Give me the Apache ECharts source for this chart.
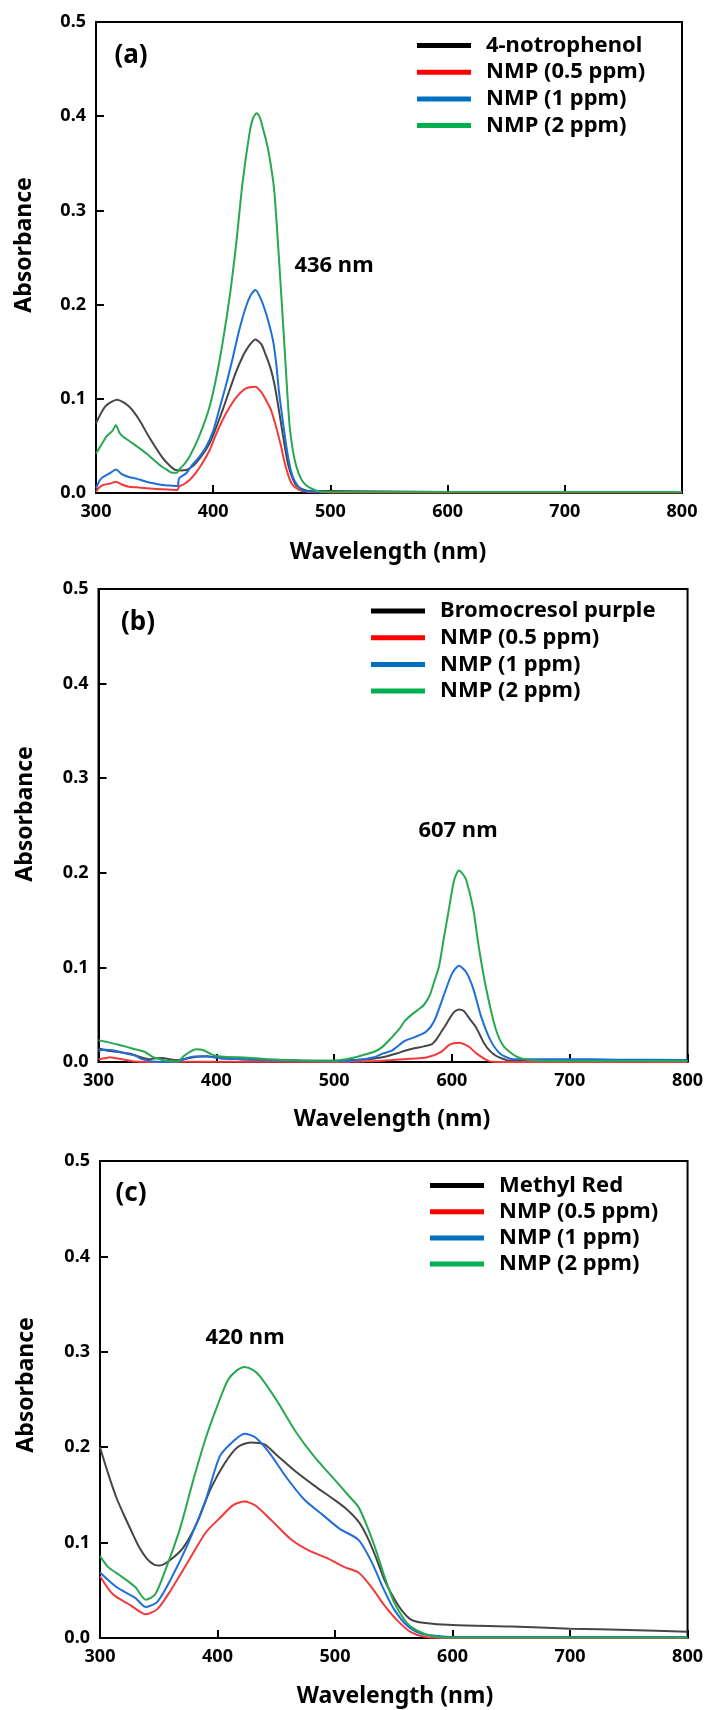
<!DOCTYPE html>
<html>
<head>
<meta charset="utf-8">
<script src="https://cdn.jsdelivr.net/npm/echarts@6/dist/echarts.min.js"></script>
<style>
html,body{margin:0;padding:0;background:#fff;}
#chart{width:706px;height:1710px;}
</style>
</head>
<body>
<div id="chart"></div>
<script>
// ---------- data: [wavelength (nm), absorbance] ----------
const seriesNamesA = ['4-notrophenol', 'NMP (0.5 ppm)', 'NMP (1 ppm)', 'NMP (2 ppm)'];
const seriesNamesB = ['Bromocresol purple', 'NMP (0.5 ppm)', 'NMP (1 ppm)', 'NMP (2 ppm)'];
const seriesNamesC = ['Methyl Red', 'NMP (0.5 ppm)', 'NMP (1 ppm)', 'NMP (2 ppm)'];
const panelLabels = ['(a)', '(b)', '(c)'];
const peakLabels = ['436 nm', '607 nm', '420 nm'];
const yTickValues = [0, 0.1, 0.2, 0.3, 0.4, 0.5];
const xTickValues = [300, 400, 500, 600, 700, 800];

// Panel (a)
const a_dye = [[300,0.074],[308,0.092],[318,0.099],[328,0.092],[337,0.0775],[345,0.060],[357,0.037],[363,0.029],[368,0.0244],[372,0.024],[377,0.0244],[385,0.0315],[397,0.053],[408,0.088],[419,0.127],[426,0.147],[431,0.157],[436,0.163],[441,0.158],[445,0.146],[449,0.132],[452,0.117],[455,0.096],[458,0.073],[461,0.050],[464,0.030],[467,0.018],[471,0.008],[476,0.004],[482,0.002],[500,0.002],[600,0.001],[700,0.001],[800,0.001]];
const a_05 = [[300,0.0014],[303,0.006],[306,0.0085],[312,0.010],[317,0.012],[322,0.009],[328,0.0067],[335,0.006],[343,0.005],[355,0.004],[369.5,0.0032],[371,0.0075],[374,0.0085],[380,0.014],[385,0.021],[391,0.032],[397,0.0456],[402,0.061],[408,0.0775],[414,0.091],[420,0.102],[428,0.111],[436,0.1128],[441,0.107],[445,0.0987],[449,0.089],[452,0.0775],[455,0.064],[458,0.049],[461,0.032],[464,0.019],[467,0.010],[471,0.005],[476,0.002],[482,0.001],[500,0.0005],[800,0.0005]];
const a_1 = [[300,0.005],[303,0.013],[306,0.017],[312,0.021],[317,0.025],[322,0.020],[328,0.017],[335,0.015],[343,0.012],[350,0.010],[357,0.0085],[365,0.0078],[369.5,0.0075],[371,0.0156],[377,0.021],[382,0.0297],[388,0.038],[394,0.049],[400,0.066],[405,0.088],[411,0.115],[417,0.145],[422,0.172],[428,0.198],[432,0.210],[436,0.2155],[440,0.208],[445,0.191],[451,0.162],[454,0.135],[456,0.109],[459,0.080],[462,0.053],[465,0.031],[468,0.017],[472,0.008],[476,0.003],[482,0.0015],[500,0.001],[800,0.001]];
const a_2 = [[300,0.042],[305,0.052],[309,0.060],[314,0.066],[317,0.072],[320,0.064],[323,0.060],[331,0.053],[343,0.042],[354,0.030],[360,0.025],[365,0.0215],[369,0.0215],[371,0.025],[375,0.030],[380,0.039],[388,0.060],[397,0.092],[405,0.138],[414,0.208],[420,0.269],[425,0.329],[431,0.382],[434,0.398],[437,0.403],[440,0.398],[442,0.389],[445,0.375],[448,0.357],[452,0.322],[456,0.251],[461,0.152],[465,0.074],[468,0.045],[471,0.028],[475,0.015],[479,0.0085],[485,0.004],[491,0.0015],[500,0.001],[600,0.001],[700,0.001],[800,0.001]];

// Panel (b)
const b_dye = [[300,0.0146],[308,0.012],[316,0.0108],[327,0.0088],[336,0.005],[343,0.003],[349,0.004],[354,0.0042],[360,0.003],[366,0.0019],[372,0.003],[377,0.0042],[385,0.0058],[392,0.006],[400,0.005],[420,0.003],[446,0.0022],[470,0.0015],[499,0.0012],[515,0.002],[530,0.003],[541,0.005],[553,0.009],[560,0.0119],[568,0.0145],[576,0.0165],[583,0.019],[587,0.0242],[591,0.032],[595,0.0396],[598,0.046],[602,0.053],[606,0.0556],[610,0.054],[612,0.051],[616,0.044],[620,0.0376],[624,0.028],[627,0.0204],[632,0.012],[637,0.0069],[642,0.004],[648,0.0015],[660,0.001],[700,0.001],[800,0.001]];
const b_05 = [[300,0.003],[305,0.004],[310,0.005],[315,0.004],[320,0.003],[331,0.0005],[350,0],[400,0.0003],[500,0],[530,0.0008],[541,0.0012],[560,0.003],[579,0.005],[591,0.0108],[598,0.0184],[606,0.0204],[614,0.0165],[621,0.0088],[631,0.0012],[641,0],[700,0],[800,0]];
const b_1 = [[300,0.0119],[305,0.013],[310,0.0127],[317,0.011],[324,0.0088],[331,0.0069],[337,0.003],[346,0.0005],[362,0],[369.5,0.0012],[375,0.004],[381,0.0058],[392,0.0058],[404,0.0038],[425,0.003],[446,0.0019],[470,0.0012],[499,0.0008],[518,0.0019],[534,0.005],[541,0.0088],[549,0.012],[553,0.0157],[560,0.0223],[568,0.0261],[578,0.0319],[585,0.0434],[593,0.0702],[600,0.0932],[606,0.1017],[612,0.0951],[618,0.0779],[625,0.0472],[633,0.0223],[641,0.0088],[652,0.003],[670,0.003],[700,0.003],[740,0.0025],[800,0.002]];
const b_2 = [[300,0.023],[308,0.021],[316,0.0184],[324,0.016],[331,0.0134],[339,0.0108],[346.5,0.005],[352,0.003],[358,0.0012],[367,0.0005],[373,0.0069],[378,0.011],[383,0.0134],[388.6,0.0127],[396,0.0081],[404,0.0058],[427,0.0046],[445,0.003],[465,0.0019],[499,0.0012],[510,0.003],[518,0.005],[526,0.008],[534,0.0108],[541,0.016],[549,0.0261],[556,0.036],[560,0.0434],[566,0.0502],[571,0.055],[576,0.060],[581,0.070],[585,0.085],[589,0.1009],[593,0.13],[597,0.1584],[602,0.1929],[606,0.2025],[609,0.199],[612,0.1929],[618,0.1622],[623,0.120],[629,0.0779],[637,0.0357],[644,0.0165],[656,0.005],[675,0.0012],[700,0.001],[800,0.001]];

// Panel (c)
const c_dye = [[300,0.200],[307,0.172],[314,0.147],[320,0.130],[326,0.114],[333,0.096],[340,0.083],[346,0.077],[351,0.076],[360,0.082],[371,0.095],[383,0.122],[394,0.156],[406,0.183],[417,0.200],[428,0.205],[440,0.203],[451,0.191],[466,0.175],[482,0.160],[497,0.147],[508,0.137],[520,0.122],[527,0.107],[535,0.084],[542,0.061],[550,0.042],[558,0.027],[565,0.019],[575,0.016],[600,0.0135],[650,0.012],[700,0.0098],[750,0.0085],[800,0.0065]];
const c_05 = [[300,0.0648],[311,0.0458],[326,0.0343],[339,0.0248],[349,0.0305],[360,0.0496],[375,0.0801],[390,0.1106],[402,0.1258],[413,0.1391],[423,0.143],[432,0.1391],[447,0.122],[463,0.1029],[478,0.0915],[493,0.0839],[508,0.0743],[520,0.0686],[531,0.0534],[542,0.0343],[554,0.0172],[565,0.0058],[577,0.001],[600,0],[800,0]];
const c_1 = [[300,0.0686],[314,0.0534],[330,0.042],[339,0.0324],[349,0.0382],[360,0.061],[375,0.0991],[390,0.1449],[402,0.1906],[413,0.2058],[423,0.2142],[432,0.2104],[444,0.1944],[459,0.1677],[474,0.1449],[489,0.1296],[504,0.1144],[520,0.1029],[531,0.0801],[542,0.0496],[550,0.0305],[561,0.0133],[573,0.0046],[588,0.002],[600,0.001],[800,0.001]];
const c_2 = [[300,0.0858],[307,0.0743],[318,0.0648],[330,0.0534],[339,0.040],[347,0.0458],[356,0.0724],[368,0.1144],[379,0.1639],[390,0.2096],[400,0.2439],[409,0.2707],[416,0.280],[423,0.284],[430,0.281],[436,0.2744],[451,0.2478],[466,0.2173],[482,0.1906],[497,0.1696],[512,0.1486],[520,0.1372],[527,0.1181],[535,0.0915],[542,0.0648],[550,0.0381],[558,0.021],[565,0.0114],[577,0.0039],[588,0.001],[600,0.0005],[800,0.0005]];

// ---------- styling ----------
const FONT = '"Noto Sans", "DejaVu Sans", sans-serif';
const lineColors = ['#464646', '#f23a3a', '#1f6fd6', '#28a852'];
const legendColors = ['#000000', '#ff0000', '#0070c0', '#00b050'];

const panels = [
  { grid: {left: 96, top: 22, width: 586, height: 471}, names: seriesNamesA, data: [a_dye, a_05, a_1, a_2],
    legend: {left: 417, top: 34.5, gap: 4.7},
    label: [131, 56], peak: [334, 266], xTitle: [388, 552], yTitle: [24, 245] },
  { grid: {left: 98.5, top: 589, width: 589.5, height: 473}, names: seriesNamesB, data: [b_dye, b_05, b_1, b_2],
    legend: {left: 371, top: 600, gap: 4.7},
    label: [138, 623], peak: [458, 831], xTitle: [392, 1119], yTitle: [25, 814] },
  { grid: {left: 100, top: 1161, width: 593, height: 477}, names: seriesNamesC, data: [c_dye, c_05, c_1, c_2],
    legend: {left: 430, top: 1174.5, gap: 4.2},
    label: [131, 1194], peak: [245, 1338], xTitle: [395, 1696], yTitle: [26, 1385] }
];

const grids = [], xAxes = [], yAxes = [], series = [], legends = [], graphics = [];
panels.forEach((p, i) => {
  grids.push(Object.assign({show: true, borderColor: '#000', borderWidth: 2, backgroundColor: 'transparent'}, p.grid));
  xAxes.push({
    type: 'value', gridIndex: i, min: xTickValues[0], max: xTickValues[xTickValues.length - 1], interval: 100,
    axisLine: {show: true, lineStyle: {color: '#000', width: 2}},
    axisTick: {show: true, inside: true, length: 8, lineStyle: {color: '#000', width: 2}},
    splitLine: {show: false},
    axisLabel: {show: true, margin: 10, color: '#000', fontSize: 18, fontWeight: 'bold', fontFamily: FONT}
  });
  yAxes.push({
    type: 'value', gridIndex: i, min: yTickValues[0], max: yTickValues[yTickValues.length - 1], interval: 0.1,
    axisLine: {show: true, lineStyle: {color: '#000', width: 2}},
    axisTick: {show: true, inside: true, length: 8, lineStyle: {color: '#000', width: 2}},
    splitLine: {show: false},
    axisLabel: {show: true, margin: 10, color: '#000', fontSize: 18, fontWeight: 'bold', fontFamily: FONT,
      formatter: v => v.toFixed(1)}
  });
  p.names.forEach((n, k) => {
    series.push({
      type: 'line', name: n, xAxisIndex: i, yAxisIndex: i, data: p.data[k],
      showSymbol: false, symbol: 'none', smooth: 0.25, animation: false,
      lineStyle: {color: lineColors[k], width: 2}, itemStyle: {color: lineColors[k]}
    });
  });
  legends.push({
    orient: 'vertical', left: p.legend.left, top: p.legend.top, padding: 0,
    itemWidth: 54, itemHeight: 5, itemGap: p.legend.gap, icon: 'rect', selectedMode: false,
    data: p.names.map((n, k) => ({name: n, itemStyle: {color: legendColors[k]}})),
    textStyle: {fontSize: 22, lineHeight: 22, fontWeight: 'bold', color: '#000', fontFamily: FONT, padding: [0, 0, 0, 10]}
  });
  graphics.push({type: 'text', x: p.label[0], y: p.label[1], z: 100,
    style: {text: panelLabels[i], fill: '#000', fontSize: 26, fontWeight: 'bold', fontFamily: FONT, align: 'center', verticalAlign: 'middle'}});
  graphics.push({type: 'text', x: p.peak[0], y: p.peak[1], z: 100,
    style: {text: peakLabels[i], fill: '#000', fontSize: 22, fontWeight: 'bold', fontFamily: FONT, align: 'center', verticalAlign: 'middle'}});
  graphics.push({type: 'text', x: p.xTitle[0], y: p.xTitle[1], z: 100,
    style: {text: 'Wavelength (nm)', fill: '#000', fontSize: 23, fontWeight: 'bold', fontFamily: FONT, align: 'center', verticalAlign: 'middle'}});
  graphics.push({type: 'text', x: p.yTitle[0], y: p.yTitle[1], rotation: Math.PI / 2, z: 100,
    style: {text: 'Absorbance', fill: '#000', fontSize: 23, fontWeight: 'bold', fontFamily: FONT, align: 'center', verticalAlign: 'middle'}});
});

const chart = echarts.init(document.getElementById('chart'), null, {renderer: 'canvas'});
chart.setOption({
  animation: false,
  backgroundColor: '#fff',
  grid: grids, xAxis: xAxes, yAxis: yAxes, series: series, legend: legends,
  graphic: graphics
});
</script>
</body>
</html>
